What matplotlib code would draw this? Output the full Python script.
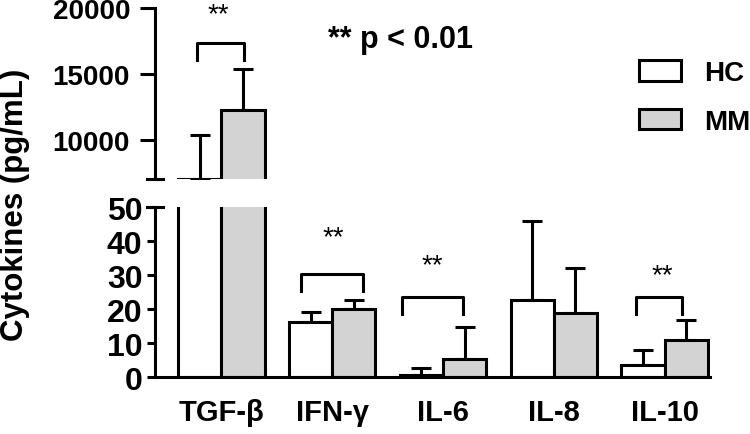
import numpy as np
from matplotlib import pyplot as plt

plt.rcParams['font.family'] = ['Liberation Sans', 'DejaVu Sans']

cats = ['TGF-β', 'IFN-γ', 'IL-6', 'IL-8', 'IL-10']
hc_mean = [7080, 16.2, 0.7, 22.7, 3.6]
hc_sd = [3320, 2.9, 1.9, 23.3, 4.4]
mm_mean = [12300, 20.0, 5.4, 18.7, 11.0]
mm_sd = [3100, 2.7, 9.3, 13.3, 5.8]

# significance brackets: (left x, right x, top y, leg y, star x, star y)
brackets_top = [(-0.22, 0.20, 17350, 16060, -0.03, 19500)]
brackets_low = [(0.72, 1.28, 30.3, 25.4, 1.01, 41),
                (1.63, 2.18, 23.5, 18.5, 1.90, 33),
                (3.74, 4.16, 23.5, 18.5, 3.98, 30)]

gray = '#d3d3d3'
lw = 2.2
w = 0.39
x = np.arange(len(cats))

fig = plt.figure(figsize=(7.5, 4.35), dpi=100)
ax_top = fig.add_axes([0.2067, 0.5862, 0.74, 0.3931])
ax_low = fig.add_axes([0.2067, 0.1310, 0.74, 0.3908])

for ax in (ax_top, ax_low):
    ax.bar(x - w/2, hc_mean, w, color='white', edgecolor='black', linewidth=lw, zorder=2, label='HC')
    ax.bar(x + w/2, mm_mean, w, color=gray, edgecolor='black', linewidth=lw, zorder=2, label='MM')
    ax.errorbar(x - w/2, hc_mean, yerr=[np.zeros(5), hc_sd], fmt='none', ecolor='black',
                elinewidth=lw, capsize=7.5, capthick=lw, zorder=1)
    ax.errorbar(x + w/2, mm_mean, yerr=[np.zeros(5), mm_sd], fmt='none', ecolor='black',
                elinewidth=lw, capsize=7.5, capthick=lw, zorder=1)
    ax.set_xlim(-0.6, 4.41)
    for s in ['top', 'right']:
        ax.spines[s].set_visible(False)
    ax.spines['left'].set_linewidth(lw)

ax_top.set_ylim(7050, 20000)
ax_top.set_yticks([10000, 15000, 20000])
ax_top.spines['bottom'].set_visible(False)
ax_top.set_xticks([])
ax_top.tick_params(axis='y', length=11, width=lw, labelsize=20, pad=7)
for t in ax_top.get_yticklabels():
    t.set_fontweight('bold')

ax_low.set_ylim(0, 50)
ax_low.set_yticks([0, 10, 20, 30, 40, 50])
ax_low.spines['bottom'].set_linewidth(lw)
ax_low.tick_params(axis='y', length=6, width=lw, labelsize=23, pad=3)
ax_low.set_xticks(x)
ax_low.set_xticklabels(cats, fontsize=21, fontweight='bold')
ax_low.tick_params(axis='x', length=0, pad=15)
for t in ax_low.get_yticklabels():
    t.set_fontweight('bold')

# break marks
k = 8 / 555
ax_top.plot([-k, k], [0, 0], transform=ax_top.transAxes, color='black', lw=lw, clip_on=False)
ax_low.plot([-k, k], [1, 1], transform=ax_low.transAxes, color='black', lw=lw, clip_on=False)

for ax, brs in ((ax_top, brackets_top), (ax_low, brackets_low)):
    for x0, x1, yb, yl, sx, sy in brs:
        ax.plot([x0, x0, x1, x1], [yl, yb, yb, yl], color='black', lw=lw, clip_on=False)
        ax.text(sx, sy, '**', ha='center', va='center', fontsize=20)

fig.text(0.437, 0.908, '** p < 0.01', ha='left', va='center', fontsize=22, fontweight='bold')
fig.text(0.02, 0.53, 'Cytokines (pg/mL)', rotation=90, ha='center', va='center',
         fontsize=22.5, fontweight='bold')

handles, labels = ax_top.get_legend_handles_labels()
leg = fig.legend(handles, labels, loc='upper left', bbox_to_anchor=(0.852, 0.859), frameon=False,
                 fontsize=20, handlelength=1.5, handleheight=0.75, labelspacing=0.81,
                 handletextpad=0.85, borderpad=0, borderaxespad=0)
for t in leg.get_texts():
    t.set_fontweight('bold')

plt.savefig('out.png', dpi=100)
